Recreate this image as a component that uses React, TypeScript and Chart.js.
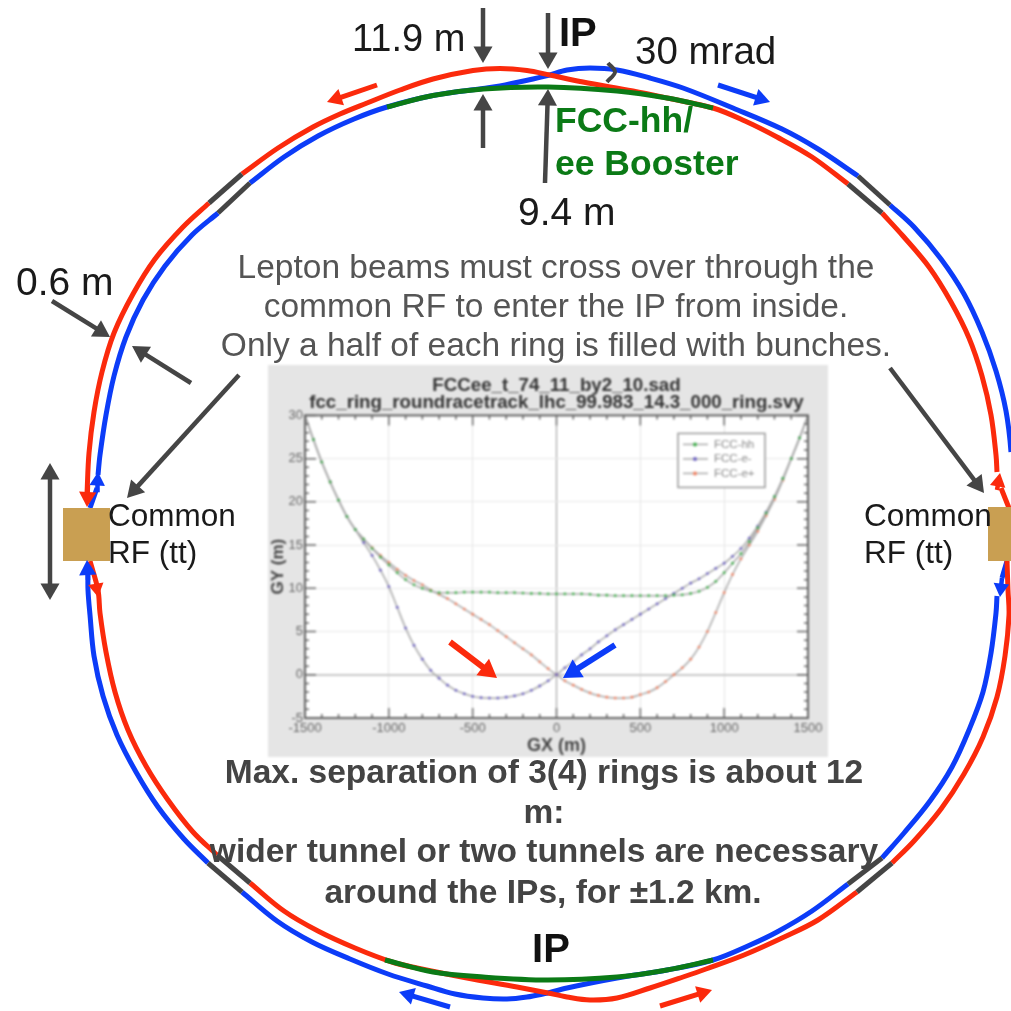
import React, { useEffect, useRef } from "react";
import { Chart, registerables } from "chart.js";

Chart.register(...registerables);

type P = [number, number];

const RED = "#fb2a0c";
const BLUE = "#0c3cf8";
const GREEN = "#0b7a16";
const DARK = "#454545";
const TAN = "#c99f52";

// ---- inset plot values (GX, GY in metres)
const gx = [-1500, -1450, -1400, -1350, -1300, -1250, -1200, -1150, -1100, -1050, -1000, -950, -900, -850, -800, -750, -700, -650, -600, -550, -500, -450, -400, -350, -300, -250, -200, -150, -100, -50, 0, 50, 100, 150, 200, 250, 300, 350, 400, 450, 500, 550, 600, 650, 700, 750, 800, 850, 900, 950, 1000, 1050, 1100, 1150, 1200, 1250, 1300, 1350, 1400, 1450, 1500];
const fccHh = [30, 27.2, 24.6, 22.3, 20.2, 18.3, 16.8, 15.7, 14.6, 13.6, 12.7, 11.8, 11, 10.4, 10, 9.7, 9.5, 9.5, 9.5, 9.55, 9.55, 9.55, 9.55, 9.5, 9.5, 9.5, 9.45, 9.4, 9.4, 9.35, 9.35, 9.35, 9.35, 9.35, 9.3, 9.2, 9.2, 9.15, 9.15, 9.15, 9.15, 9.15, 9.15, 9.15, 9.2, 9.25, 9.4, 9.65, 10.1, 10.8, 11.8, 12.9, 14, 15.4, 17, 18.7, 20.6, 22.7, 25, 27.4, 30];
const fccEm = [30, 27.2, 24.6, 22.3, 20.2, 18.3, 16.8, 15.3, 13.8, 12.1, 10.2, 7.8, 5.4, 3.4, 1.8, 0.5, -0.4, -1.2, -1.8, -2.2, -2.5, -2.65, -2.7, -2.7, -2.6, -2.45, -2.2, -1.8, -1.3, -0.7, 0, 0.8, 1.5, 2.3, 3, 3.8, 4.5, 5.2, 5.8, 6.4, 7, 7.6, 8.2, 8.8, 9.4, 10, 10.6, 11.1, 11.7, 12.3, 12.9, 13.7, 14.6, 15.8, 17.2, 18.8, 20.6, 22.7, 25, 27.4, 30];
const fccEp = [30, 27.2, 24.6, 22.3, 20.2, 18.3, 16.8, 15.7, 14.7, 13.8, 13, 12.2, 11.5, 10.9, 10.4, 9.8, 9.3, 8.8, 8.2, 7.6, 7, 6.4, 5.8, 5.1, 4.4, 3.7, 3, 2.3, 1.5, 0.7, 0, -0.7, -1.2, -1.7, -2.1, -2.4, -2.6, -2.7, -2.7, -2.6, -2.3, -2, -1.5, -0.8, 0, 0.8, 1.8, 3.2, 5, 7.2, 9.5, 11.6, 13.4, 15, 16.6, 18.4, 20.3, 22.5, 25, 27.4, 30];
const xTicks = [-1500, -1000, -500, 0, 500, 1000, 1500];
const seriesNames = ["FCC-hh", "FCC-e-", "FCC-e+"];
const seriesColors = ["#3fae4a", "#6a5fc0", "#f08060"];

// ---- ring paths of the schematic
const redTL: P[] = [[550, 75], [527, 70.5], [500, 68.5], [473, 70.5], [433, 79], [400, 90], [367, 103], [340, 114], [313, 127], [278, 148], [242, 174]];
const redL: P[] = [[209, 203], [183, 227], [155, 259], [133, 294], [114, 333], [102, 372], [94, 412], [89, 453], [87, 494]];
const blueTL: P[] = [[550, 75], [533, 79], [500, 86], [483, 88.5], [433, 95.5], [387, 107], [354, 119], [318, 136], [284, 157], [250, 183]];
const blueL: P[] = [[218, 213], [192, 235], [165, 266], [143, 300], [126, 337], [114, 376], [106, 415], [100, 455], [98, 475]];
const blueLLink: P[] = [[97, 488], [90, 508]];
const blueBL: P[] = [[88, 570], [88, 590], [90, 615], [94, 656], [103, 696], [117, 735], [136, 772], [158, 807], [184, 839], [208, 863]];
const redBL: P[] = [[90, 561], [98, 590], [100, 613], [106, 652], [115, 692], [128, 730], [146, 766], [168, 800], [193, 832], [217, 855]];
const blueB: P[] = [[242, 892], [277, 921], [312, 942], [350, 959], [388, 974], [427, 986], [455, 994], [483, 998], [507, 999], [527, 997], [548, 993]];
const redB: P[] = [[250, 883], [284, 911], [318, 931], [355, 948], [392, 962], [417, 968], [467, 978], [517, 987], [548, 993]];
const blueBR: P[] = [[548, 993], [567, 988], [617, 978], [667, 970], [713, 960], [750, 945], [777, 932], [812, 911], [848, 884]];
const redBR: P[] = [[548, 993], [567, 997], [590, 1000], [617, 998], [650, 988], [683, 977], [706, 969], [744, 955], [782, 938], [818, 920], [857, 892]];
const blueR: P[] = [[882, 858], [904, 833], [930, 801], [952, 767], [969, 730], [983, 692], [991, 653], [996, 613], [997, 596]];
const blueRLink: P[] = [[1007, 561], [1002, 578]];
const redR: P[] = [[892, 863], [914, 841], [941, 809], [964, 774], [983, 737], [997, 697], [1005, 656], [1009, 615], [1008, 590], [1007, 561]];
const blueT: P[] = [[550, 75], [567, 70], [590, 68], [617, 70], [650, 78], [683, 88], [733, 108], [782, 129], [818, 149], [858, 176]];
const blueTR: P[] = [[890, 205], [914, 227], [941, 259], [964, 294], [982, 332], [996, 371], [1006, 411], [1011, 452], [1012, 490]];
const redT: P[] = [[550, 75], [583, 82], [633, 91], [667, 98], [713, 108], [745, 121], [777, 137], [812, 157], [848, 184]];
const redTR: P[] = [[882, 213], [903, 236], [929, 267], [951, 302], [969, 338], [982, 376], [991, 415], [996, 455], [997, 472]];
const redRLink: P[] = [[1001, 488], [1009, 508]];
const boosterTop: P[] = [[387, 107], [433, 95.5], [483, 89], [548, 87], [617, 91], [667, 98], [713, 108]];
const boosterBottom: P[] = [[385, 960], [433, 972], [483, 977], [548, 980], [617, 977], [667, 970], [713, 960]];
const darkSegments: P[][] = [
  [[242, 174], [209, 203]], [[250, 183], [218, 213]],
  [[858, 176], [890, 205]], [[848, 184], [882, 213]],
  [[208, 863], [242, 892]], [[217, 855], [250, 883]],
  [[882, 858], [848, 884]], [[892, 863], [857, 892]],
];
const mradArc: P[] = [[608, 63], [615, 72], [607, 82]];
const rfLeft: P[] = [[63, 534.5], [110, 534.5]];
const rfRight: P[] = [[988, 534], [1011, 534]];

// ---- arrows: start, tip, colour, head radius, line width
type A = [number, number, number, number, string, number, number];
const arrows: A[] = [
  [483, 8, 483, 63, DARK, 11, 4.5], [483, 148, 483, 94, DARK, 11, 4.5],
  [548, 13, 548, 69, DARK, 11, 4.5], [545, 183, 548, 89, DARK, 11, 4.5],
  [377, 85, 327, 102, RED, 10, 5], [718, 85, 770, 102, BLUE, 10, 5],
  [450, 1007, 399, 992, BLUE, 10, 5], [660, 1006, 712, 990, RED, 10, 5],
  [52, 301, 110, 337, DARK, 11, 4.5], [191, 383, 132, 346, DARK, 11, 4.5],
  [239, 375, 127, 498, DARK, 11, 4.5], [890, 368, 984, 493, DARK, 11, 4.5],
  [50, 530, 50, 463, DARK, 11, 4.5], [50, 530, 50, 600, DARK, 11, 4.5],
  [88, 485, 87, 507, RED, 10, 4.5], [97, 490, 98, 472, BLUE, 9, 4.5],
  [88, 580, 87, 560, BLUE, 10, 4.5], [96, 585, 98, 597, RED, 9, 4.5],
  [997, 490, 1000, 473, RED, 9, 4.5], [1002, 578, 1000, 597, BLUE, 9, 4.5],
  [450, 642, 497, 678, RED, 12, 6], [615, 645, 563, 678, BLUE, 12, 6],
];

// ---- text of the schematic
type L = [string, number, number, string, string, "left" | "center"];
const sans = '"Liberation Sans", Arial, sans-serif';
const labels: L[] = [
  ["11.9 m", 352, 41, "38px", "#1a1a1a", "left"],
  ["IP", 559, 35, "bold 40px", "#111", "left"],
  ["30 mrad", 635, 53, "38.5px", "#1a1a1a", "left"],
  ["FCC-hh/", 555, 122, "bold 35.5px", GREEN, "left"],
  ["ee Booster", 555, 165, "bold 35.5px", GREEN, "left"],
  ["9.4 m", 518, 214, "39px", "#1a1a1a", "left"],
  ["0.6 m", 16, 284, "39px", "#1a1a1a", "left"],
  ["Lepton beams must cross over through the", 556, 269, "33.5px", "#555", "center"],
  ["common RF to enter the IP from inside.", 556, 308, "33.5px", "#555", "center"],
  ["Only a half of each ring is filled with bunches.", 556, 347, "33.5px", "#555", "center"],
  ["Common", 108, 517, "31.5px", "#1a1a1a", "left"],
  ["RF (tt)", 108, 554, "31.5px", "#1a1a1a", "left"],
  ["Common", 864, 517, "31.5px", "#1a1a1a", "left"],
  ["RF (tt)", 864, 554, "31.5px", "#1a1a1a", "left"],
  ["Max. separation of 3(4) rings is about 12", 544, 774, "bold 33.5px", "#444", "center"],
  ["m:", 544, 814, "bold 33.5px", "#444", "center"],
  ["wider tunnel or two tunnels are necessary", 544, 853, "bold 33.5px", "#444", "center"],
  ["around the IPs, for \u00b11.2 km.", 543, 894, "bold 33.5px", "#444", "center"],
  ["IP", 551, 951, "bold 40px", "#111", "center"],
];

const xy = (pts: P[]) => pts.map(([x, y]) => ({ x, y }));
const path = (pts: P[], color: string, width = 5, tension = 0.35) => ({
  data: xy(pts), borderColor: color, borderWidth: width, showLine: true, tension,
  pointRadius: 0, fill: false, borderCapStyle: "butt" as const,
});

function arrowDatasets(a: A) {
  const [x0, y0, x1, y1, color, r, w] = a;
  const len = Math.hypot(x1 - x0, y1 - y0);
  const dx = (x1 - x0) / len;
  const dy = (y1 - y0) / len;
  const cx = x1 - dx * r;
  const cy = y1 - dy * r;
  return {
    data: [{ x: x0, y: y0 }, { x: cx, y: cy }],
    borderColor: color, borderWidth: w, showLine: true, tension: 0,
    backgroundColor: color,
    pointBorderColor: color, pointBorderWidth: 0, pointBackgroundColor: color,
    pointStyle: "triangle", pointRadius: [0, r], pointHoverRadius: [0, r],
    pointRotation: (Math.atan2(dx, -dy) * 180) / Math.PI,
  };
}

const textPlugin = {
  id: "schemaText",
  afterDatasetsDraw(chart: any) {
    const { ctx, scales } = chart;
    ctx.save();
    ctx.textBaseline = "middle";
    for (const [text, x, y, font, color, align] of labels) {
      ctx.font = `${font} ${sans}`;
      ctx.fillStyle = color;
      ctx.textAlign = align;
      ctx.fillText(text, scales.x.getPixelForValue(x), scales.y.getPixelForValue(y));
    }
    ctx.restore();
  },
};

const insetPlugin = {
  id: "insetDecor",
  beforeDraw(chart: any) {
    const { ctx, chartArea: a } = chart;
    ctx.save();
    ctx.fillStyle = "#ffffff";
    ctx.fillRect(a.left, a.top, a.width, a.height);
    ctx.restore();
  },
  afterDatasetsDraw(chart: any) {
    const { ctx, chartArea: a, scales } = chart;
    ctx.save();
    ctx.strokeStyle = "#666";
    ctx.lineWidth = 1.5;
    for (let v = -1500; v <= 1500; v += 100) {
      const x = scales.x.getPixelForValue(v);
      const len = v % 500 === 0 ? 10 : 4;
      ctx.beginPath();
      ctx.moveTo(x, a.bottom); ctx.lineTo(x, a.bottom - len);
      ctx.moveTo(x, a.top); ctx.lineTo(x, a.top + len);
      ctx.stroke();
    }
    for (let v = -5; v <= 30; v += 1) {
      const y = scales.y.getPixelForValue(v);
      const len = v % 5 === 0 ? 11 : 4;
      ctx.beginPath();
      ctx.moveTo(a.left, y); ctx.lineTo(a.left + len, y);
      ctx.moveTo(a.right, y); ctx.lineTo(a.right - len, y);
      ctx.stroke();
    }
    ctx.lineWidth = 2;
    ctx.strokeRect(a.left, a.top, a.width, a.height);
    // legend box
    const bx = a.right - 130, by = a.top + 18, bw = 87, bh = 54;
    ctx.fillStyle = "#fff";
    ctx.strokeStyle = "#999";
    ctx.lineWidth = 1.5;
    ctx.fillRect(bx, by, bw, bh);
    ctx.strokeRect(bx, by, bw, bh);
    ctx.font = `11.5px ${sans}`;
    ctx.textBaseline = "middle";
    ctx.textAlign = "left";
    chart.data.datasets.forEach((d: any, i: number) => {
      const y = by + 11 + i * 14.5;
      ctx.strokeStyle = "#aaa";
      ctx.lineWidth = 1.5;
      ctx.beginPath(); ctx.moveTo(bx + 5, y); ctx.lineTo(bx + 30, y); ctx.stroke();
      ctx.fillStyle = seriesColors[i];
      ctx.beginPath(); ctx.arc(bx + 17, y, 2, 0, Math.PI * 2); ctx.fill();
      ctx.fillStyle = "#888";
      ctx.fillText(d.label, bx + 36, y);
    });
    ctx.restore();
  },
};

export default function App() {
  const insetRef = useRef<HTMLCanvasElement>(null);
  const mainRef = useRef<HTMLCanvasElement>(null);

  useEffect(() => {
    const inset = new Chart(insetRef.current!, {
      type: "line",
      data: {
        datasets: [fccHh, fccEm, fccEp].map((vals, i) => ({
          label: seriesNames[i],
          data: gx.map((x, j) => ({ x, y: vals[j] })),
          borderColor: "#a8a8a8", borderWidth: 1.5,
          pointRadius: 1.4, pointBackgroundColor: seriesColors[i], pointBorderWidth: 0,
          tension: 0.3,
        })),
      },
      options: {
        responsive: false, animation: false,
        layout: { autoPadding: false, padding: { right: 20 } },
        plugins: {
          legend: { display: false },
          tooltip: { enabled: false },
          title: {
            display: true,
            fullSize: false,
            text: ["FCCee_t_74_11_by2_10.sad", "fcc_ring_roundracetrack_lhc_99.983_14.3_000_ring.svy"],
            color: "#333",
            font: { family: sans, size: 18.7, weight: "bold", lineHeight: 0.92 },
            padding: { top: 12, bottom: 4 },
          },
        },
        scales: {
          x: {
            type: "linear", min: -1500, max: 1500,
            afterBuildTicks: (s: any) => { s.ticks = xTicks.map((value) => ({ value })); },
            afterFit: (s: any) => { s.height = 39; },
            grid: { drawTicks: false, color: (c: any) => (c.tick?.value === 0 ? "#999" : "#e4e4e4"), lineWidth: 1 },
            border: { display: false },
            ticks: { color: "#666", font: { family: sans, size: 13 }, maxRotation: 0, minRotation: 0, autoSkip: false, padding: 3, callback: (v: any) => String(v) },
            title: { display: true, text: "GX (m)", color: "#444", font: { family: sans, size: 18, weight: "bold" }, padding: 0 },
          },
          y: {
            type: "linear", min: -5, max: 30,
            afterFit: (s: any) => { s.width = 37; },
            grid: { drawTicks: false, color: (c: any) => (c.tick?.value === 0 ? "#c8c8c8" : "#e8e8e8"), lineWidth: (c: any) => (c.tick?.value === 0 ? 2 : 1) },
            border: { display: false },
            ticks: { stepSize: 5, color: "#666", font: { family: sans, size: 13 }, padding: 2 },
            title: { display: true, text: "GY (m)", color: "#444", font: { family: sans, size: 17, weight: "bold" }, padding: 0 },
          },
        },
      } as any,
      plugins: [insetPlugin],
    });

    const main = new Chart(mainRef.current!, {
      type: "scatter",
      data: {
        // Chart.js paints the first dataset last, so the topmost marks come first
        datasets: [
          ...arrows.map(arrowDatasets),
          path(rfLeft, TAN, 53, 0),
          path(rfRight, TAN, 54, 0),
          path(mradArc, DARK, 4),
          ...darkSegments.map((p) => path(p, DARK, 5, 0)),
          path(boosterTop, GREEN), path(boosterBottom, GREEN),
          ...[redTL, redL, redBL, redB, redBR, redR, redT, redTR, redRLink].map((p) => path(p, RED)),
          ...[blueTL, blueL, blueLLink, blueBL, blueB, blueBR, blueR, blueRLink, blueT, blueTR].map((p) => path(p, BLUE)),
        ] as any,
      },
      options: {
        responsive: false, animation: false,
        layout: { autoPadding: false, padding: 0 },
        plugins: { legend: { display: false }, tooltip: { enabled: false }, title: { display: false } },
        scales: {
          x: { type: "linear", min: 0, max: 1011, display: false },
          y: { type: "linear", min: 0, max: 1011, reverse: true, display: false },
        },
      } as any,
      plugins: [textPlugin],
    });

    return () => { inset.destroy(); main.destroy(); };
  }, []);

  return (
    <div style={{ position: "absolute", left: 0, top: 0, width: 1011, height: 1011, background: "#fff", overflow: "hidden" }}>
      <canvas ref={insetRef} width={560} height={392}
        style={{ position: "absolute", left: 268, top: 365, width: 560, height: 392, background: "#e5e5e5", filter: "blur(0.8px)" }} />
      <canvas ref={mainRef} width={1011} height={1011}
        style={{ position: "absolute", left: 0, top: 0, width: 1011, height: 1011, filter: "blur(0.5px)" }} />
    </div>
  );
}
